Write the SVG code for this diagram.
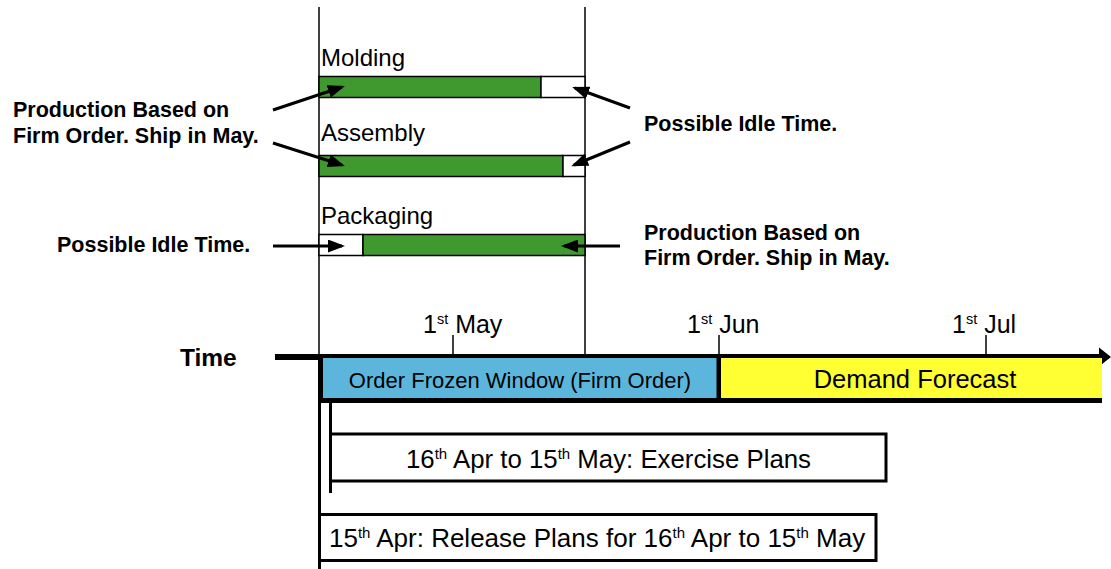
<svg xmlns="http://www.w3.org/2000/svg" width="1111" height="569" viewBox="0 0 1111 569">
  <style>
    .lbl { font-family: "Liberation Sans", Arial, sans-serif; fill: #000; }
    .bold { font-family: "Liberation Sans", Arial, sans-serif; font-weight: bold; font-size: 21.5px; fill: #000; }
    .thin { stroke: #000; stroke-width: 1.5; fill: none; }
    .bar { stroke: #000; stroke-width: 1.5; }
    .green { fill: #40992f; }
    .idle { fill: #ffffff; }
    .arrow { stroke: #000; stroke-width: 3; fill: none; marker-end: url(#head); }
    .frame { stroke: #000; stroke-width: 3; fill: #fff; }
  </style>
  <defs>
    <marker id="head" markerUnits="userSpaceOnUse" markerWidth="17" markerHeight="13" refX="14" refY="6.5" orient="auto">
      <path d="M0,0 L17,6.5 L0,13 z" fill="#000"/>
    </marker>
  </defs>
  <rect width="1111" height="569" fill="#fff"/>

  <!-- production window guides -->
  <g id="window-guides">
    <line class="thin" x1="319" y1="7" x2="319" y2="360"/>
    <line class="thin" x1="585" y1="7" x2="585" y2="357"/>
  </g>

  <!-- process lanes -->
  <g id="molding">
    <text class="lbl" x="321" y="66" font-size="24">Molding</text>
    <rect class="bar green" x="319" y="76.5" width="222" height="21"/>
    <rect class="bar idle" x="541" y="76.5" width="44" height="21"/>
  </g>
  <g id="assembly">
    <text class="lbl" x="321" y="141" font-size="24">Assembly</text>
    <rect class="bar green" x="319" y="155.5" width="244" height="21"/>
    <rect class="bar idle" x="563" y="155.5" width="22" height="21"/>
  </g>
  <g id="packaging">
    <text class="lbl" x="321" y="224" font-size="24">Packaging</text>
    <rect class="bar idle" x="319" y="234.5" width="44" height="21"/>
    <rect class="bar green" x="363" y="234.5" width="222" height="21"/>
  </g>

  <!-- annotations -->
  <g id="note-firm-left">
    <text class="bold" x="13" y="117">Production Based on</text>
    <text class="bold" x="13" y="143">Firm Order. Ship in May.</text>
  </g>
  <g id="note-idle-left">
    <text class="bold" x="57" y="252">Possible Idle Time.</text>
  </g>
  <g id="note-idle-right">
    <text class="bold" x="644" y="131">Possible Idle Time.</text>
  </g>
  <g id="note-firm-right">
    <text class="bold" x="644" y="240">Production Based on</text>
    <text class="bold" x="644" y="265">Firm Order. Ship in May.</text>
  </g>

  <g id="connectors">
    <line class="arrow" x1="273" y1="110" x2="342" y2="87"/>
    <line class="arrow" x1="273" y1="143" x2="342" y2="165"/>
    <line class="arrow" x1="273" y1="246" x2="342" y2="246"/>
    <line class="arrow" x1="630" y1="108" x2="575" y2="88"/>
    <line class="arrow" x1="630" y1="142" x2="574" y2="165"/>
    <line class="arrow" x1="620" y1="246" x2="564" y2="246"/>
  </g>

  <!-- time axis -->
  <g id="time-axis">
    <text class="lbl" x="180" y="366" font-size="24.5" font-weight="bold">Time</text>
    <line x1="275" y1="357" x2="1100" y2="357" stroke="#000" stroke-width="6"/>
    <path d="M1099,347.5 L1111,357 L1099,366.5 z" fill="#000"/>
    <line class="thin" x1="453" y1="335" x2="453" y2="356"/>
    <line class="thin" x1="719" y1="335" x2="719" y2="356"/>
    <line class="thin" x1="986" y1="335" x2="986" y2="356"/>
    <text class="lbl" x="423" y="333" font-size="25">1<tspan font-size="14.5" dy="-9">st</tspan><tspan dy="9"> May</tspan></text>
    <text class="lbl" x="687" y="333" font-size="25">1<tspan font-size="14.5" dy="-9">st</tspan><tspan dy="9"> Jun</tspan></text>
    <text class="lbl" x="952" y="333" font-size="25">1<tspan font-size="14.5" dy="-9">st</tspan><tspan dy="9"> Jul</tspan></text>
  </g>

  <g id="frozen-window">
    <rect x="320.5" y="358" width="398.5" height="42.5" fill="#5cb6dc"/>
    <path d="M320.5,357 L320.5,400.5 L719,400.5 L719,357" fill="none" stroke="#000" stroke-width="5"/>
    <text class="lbl" x="520" y="388" font-size="22" text-anchor="middle">Order Frozen Window (Firm Order)</text>
  </g>

  <g id="demand-forecast">
    <rect x="721" y="358" width="381" height="42" fill="#ffff33"/>
    <line x1="719" y1="400.5" x2="1102" y2="400.5" stroke="#000" stroke-width="5"/>
    <text class="lbl" x="915" y="388" font-size="25.5" text-anchor="middle">Demand Forecast</text>
  </g>

  <!-- planning steps -->
  <g id="release-plans">
    <line x1="319.5" y1="402" x2="319.5" y2="569" stroke="#000" stroke-width="3"/>
    <rect class="frame" x="319.5" y="514.5" width="556.5" height="46"/>
    <text class="lbl" x="329" y="547" font-size="26">15<tspan font-size="15" dy="-9">th</tspan><tspan dy="9"> Apr: Release Plans for 16</tspan><tspan font-size="15" dy="-9">th</tspan><tspan dy="9"> Apr to 15</tspan><tspan font-size="15" dy="-9">th</tspan><tspan dy="9"> May</tspan></text>
  </g>
  <g id="exercise-plans">
    <rect class="frame" x="330.5" y="434" width="555.5" height="47"/>
    <line x1="330.5" y1="402" x2="330.5" y2="493" stroke="#000" stroke-width="3"/>
    <text class="lbl" x="406" y="468" font-size="25.8">16<tspan font-size="15" dy="-9">th</tspan><tspan dy="9"> Apr to 15</tspan><tspan font-size="15" dy="-9">th</tspan><tspan dy="9"> May: Exercise Plans</tspan></text>
  </g>
</svg>
